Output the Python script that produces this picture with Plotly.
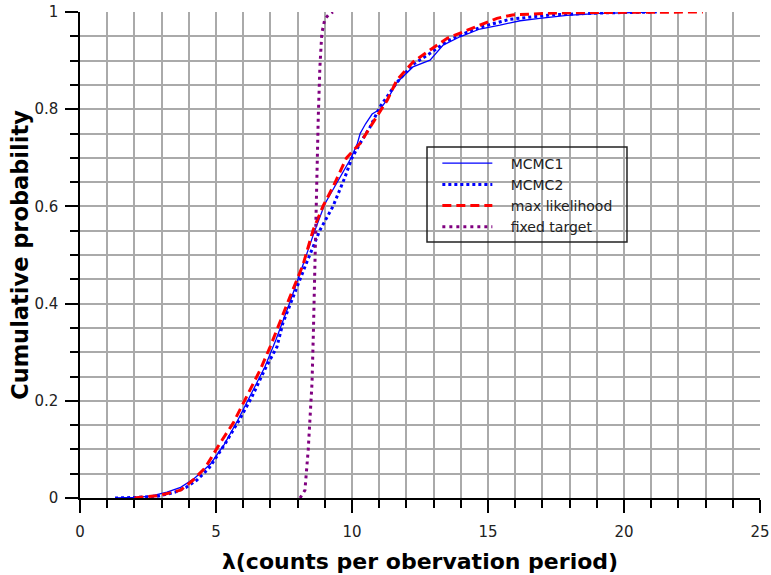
import plotly.graph_objects as go

# ---- data ----
ml_x = [2.0, 2.9, 3.7, 4.16, 4.6, 5.15, 5.63, 6.13, 6.62, 6.99, 7.35, 7.72, 8.2, 8.57, 8.93, 9.3, 9.8, 10.3, 10.9, 11.3,
        11.65, 12.24, 12.87, 13.5, 14.08, 14.7, 15.33, 15.9, 16.5, 17.5, 19.0, 21.0, 22.9]
ml_y = [0.0, 0.005, 0.016, 0.037, 0.062, 0.113, 0.154, 0.208, 0.263, 0.311, 0.36, 0.414, 0.48, 0.551, 0.60, 0.64, 0.70, 0.73, 0.784, 0.819,
        0.86, 0.897, 0.922, 0.946, 0.959, 0.973, 0.987, 0.994, 0.996, 0.998, 0.999, 1.0, 1.0]

mcmc1_x = [1.3, 2.0, 2.6, 3.2, 3.7, 4.2, 4.8, 5.3, 5.8, 6.3, 6.8, 7.2, 7.7, 8.2, 8.6, 9.0, 9.5, 9.97, 10.2, 10.3,
           10.5, 10.74, 11.03, 11.3, 11.65, 12.24, 12.87, 13.35, 13.97, 14.7, 15.44, 16.18, 16.9, 17.9, 19.1, 21.2]
mcmc1_y = [0.0, 0.001, 0.004, 0.012, 0.022, 0.04, 0.07, 0.11, 0.16, 0.215, 0.27, 0.325, 0.40, 0.48, 0.545, 0.605, 0.655, 0.70, 0.73, 0.75,
           0.77, 0.79, 0.80, 0.82, 0.855, 0.887, 0.901, 0.932, 0.949, 0.965, 0.973, 0.982, 0.987, 0.993, 0.997, 1.0]

mcmc2_x = [1.29, 2.0, 2.9, 3.5, 3.9, 4.3, 4.75, 5.35, 5.85, 6.32, 6.8, 7.24, 7.46, 7.83, 8.3, 8.82, 9.3, 9.74, 10.0, 10.3,
           10.66, 11.03, 11.65, 12.24, 12.87, 13.5, 14.08, 14.8, 15.8, 17.3, 19.1, 21.2]
mcmc2_y = [0.0, 0.001, 0.004, 0.012, 0.022, 0.037, 0.062, 0.113, 0.16, 0.208, 0.265, 0.311, 0.36, 0.414, 0.48, 0.551, 0.60, 0.66, 0.70, 0.73,
           0.763, 0.805, 0.855, 0.892, 0.915, 0.94, 0.955, 0.97, 0.985, 0.994, 0.998, 1.0]

target_x = [8.09, 8.27, 8.39, 8.53, 8.58, 8.64, 8.71, 8.76, 8.82, 8.89, 9.0, 9.15, 9.3]
target_y = [0.0, 0.016, 0.099, 0.237, 0.34, 0.51, 0.648, 0.784, 0.887, 0.956, 0.985, 0.995, 1.0]

series_names = ["MCMC1", "MCMC2", "max likelihood", "fixed target"]

FONT = "DejaVu Sans"
GRID = "#aaaaaa"
PAD = "\u00a0\u00a0\u00a0"

fig = go.Figure()
fig.add_trace(go.Scatter(x=mcmc1_x, y=mcmc1_y, mode="lines", name=PAD + series_names[0],
                         line=dict(color="#0000ff", width=1.3)))
fig.add_trace(go.Scatter(x=mcmc2_x, y=mcmc2_y, mode="lines", name=PAD + series_names[1],
                         line=dict(color="#0000ff", width=3, dash="3px,3px")))
fig.add_trace(go.Scatter(x=ml_x, y=ml_y, mode="lines", name=PAD + series_names[2],
                         line=dict(color="#ff0000", width=3, dash="9px,5px")))
fig.add_trace(go.Scatter(x=target_x, y=target_y, mode="lines", name=PAD + series_names[3],
                         line=dict(color="#800080", width=3, dash="3px,4px")))

fig.update_layout(
    width=771, height=575, autosize=False,
    margin=dict(l=80, r=11, t=12, b=77),
    plot_bgcolor="white", paper_bgcolor="white",
    font=dict(family=FONT, size=15, color="#222"),
    showlegend=True,
    legend=dict(x=0.5255, y=0.721, xanchor="left", yanchor="top",
                bgcolor="rgba(0,0,0,0)", borderwidth=0,
                font=dict(family=FONT, size=14, color="#222"),
                itemwidth=50, tracegroupgap=0),
    shapes=[
        # hide grid lines that sit on the top / right plot edges
        dict(type="line", xref="paper", yref="paper", x0=0, x1=1, y0=1, y1=1,
             line=dict(color="white", width=3), layer="between"),
        dict(type="line", xref="paper", yref="paper", x0=1, x1=1, y0=0, y1=1,
             line=dict(color="white", width=3), layer="between"),
        # legend frame
        dict(type="rect", xref="paper", yref="paper",
             x0=0.5103, x1=0.8044, y0=0.5267, y1=0.7222,
             line=dict(color="#222", width=1.5)),
    ],
)

fig.update_xaxes(
    range=[0, 25], dtick=5, tick0=0, automargin=False,
    showline=True, linecolor="black", linewidth=1.5,
    ticks="outside", ticklen=13, tickwidth=1.5, tickcolor="black",
    showgrid=True, gridcolor=GRID, gridwidth=1.5,
    zeroline=False,
    minor=dict(dtick=1, ticklen=8, tickwidth=1.5, tickcolor="black",
               showgrid=True, gridcolor=GRID, gridwidth=1.5, ticks="outside"),
    ticklabelstandoff=6,
    title=dict(text="λ(counts per obervation period)",
               font=dict(family=FONT, size=22, color="black", weight="bold"),
               standoff=14),
)
fig.update_yaxes(
    range=[0, 1], dtick=0.2, tick0=0, automargin=False,
    showline=True, linecolor="black", linewidth=1.5,
    ticks="outside", ticklen=13, tickwidth=1.5, tickcolor="black",
    showgrid=True, gridcolor=GRID, gridwidth=1.5,
    zeroline=False,
    minor=dict(dtick=0.05, ticklen=8, tickwidth=1.5, tickcolor="black",
               showgrid=True, gridcolor=GRID, gridwidth=1.5, ticks="outside"),
    ticklabelstandoff=4,
    title=dict(text="Cumulative probability",
               font=dict(family=FONT, size=22.5, color="black", weight="bold"),
               standoff=0),
)

fig.write_html("out.html", config={"displayModeBar": False},
               post_script="document.body.style.margin='0px';")
